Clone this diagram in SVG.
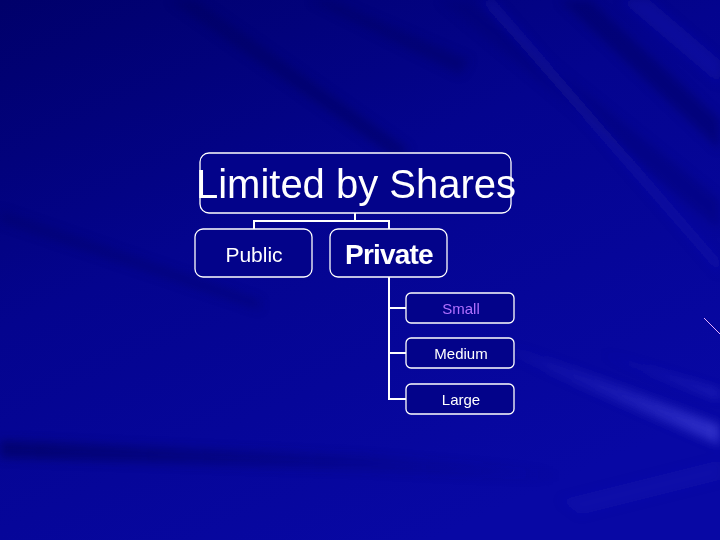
<svg xmlns="http://www.w3.org/2000/svg" width="720" height="540" viewBox="0 0 720 540">
<defs>
<linearGradient id="bg" x1="0" y1="0" x2="0.6" y2="1">
<stop offset="0" stop-color="#00006a"/>
<stop offset="0.45" stop-color="#04048e"/>
<stop offset="1" stop-color="#0808a4"/>
</linearGradient>
<linearGradient id="ray" x1="0" y1="0" x2="1" y2="0">
<stop offset="0" stop-color="#3a3ad0" stop-opacity="0"/>
<stop offset="1" stop-color="#4a4ae0" stop-opacity="0.6"/>
</linearGradient>
<linearGradient id="dray" x1="0" y1="0" x2="1" y2="0">
<stop offset="0" stop-color="#000050" stop-opacity="0.5"/>
<stop offset="1" stop-color="#000050" stop-opacity="0"/>
</linearGradient>
<filter id="blur" x="-20%" y="-20%" width="140%" height="140%"><feGaussianBlur stdDeviation="5"/></filter>
</defs>
<style>
.box{fill:#03038a;stroke:#ffffff;stroke-width:1.3}
.t{font-family:"Liberation Sans",Arial,sans-serif;fill:#ffffff;text-anchor:middle}
.conn{fill:none;stroke:#ffffff;stroke-width:2}
</style>
<rect width="720" height="540" fill="url(#bg)"/>
<g id="background" filter="url(#blur)">
<polygon points="170,0 195,0 410,150 395,158" fill="#00005a" opacity="0.45"/>
<polygon points="310,0 330,0 470,60 460,75" fill="#000058" opacity="0.35"/>
<polygon points="440,0 470,0 720,200 720,230" fill="#000070" opacity="0.35"/>
<polygon points="560,0 590,0 720,120 720,150" fill="#000060" opacity="0.45"/>
<polygon points="620,0 650,0 720,60 720,85" fill="#1616b8" opacity="0.3"/>
<polygon points="480,0 495,0 720,260 720,275" fill="#1a1ac0" opacity="0.25"/>
<polygon points="500,340 720,425 720,445 500,352" fill="url(#ray)"/>
<polygon points="600,350 720,390 720,400 600,356" fill="url(#ray)" opacity="0.5"/>
<polygon points="0,440 360,455 560,470 560,482 360,470 0,458" fill="url(#dray)"/>
<polygon points="0,210 260,300 260,310 0,222" fill="#00005c" opacity="0.3"/>
<polygon points="560,500 720,460 720,480 580,515" fill="#2020c0" opacity="0.2"/>
</g>
<line x1="704" y1="318" x2="720" y2="334" stroke="#e6b0ff" stroke-width="1"/>
<g id="connectors">
<path class="conn" d="M355,213 V221 M254,229 V221 H389 V229"/>
<path class="conn" d="M389,277 V399 H406 M389,308 H406 M389,353 H406"/>
</g>
<g id="node-root">
<rect class="box" x="200" y="153" width="311" height="60" rx="9"/>
<text class="t" x="356" y="198" font-size="40">Limited by Shares</text>
</g>
<g id="node-public">
<rect class="box" x="195" y="229" width="117" height="48" rx="8"/>
<text class="t" x="254" y="262" font-size="21">Public</text>
</g>
<g id="node-private">
<rect class="box" x="330" y="229" width="117" height="48" rx="8"/>
<text class="t" x="389" y="264" font-size="28" font-weight="bold" letter-spacing="-0.8">Private</text>
</g>
<g id="node-small">
<rect class="box" x="406" y="293" width="108" height="30" rx="5"/>
<text class="t" x="461" y="314" font-size="15" style="fill:#b070ff">Small</text>
</g>
<g id="node-medium">
<rect class="box" x="406" y="338" width="108" height="30" rx="5"/>
<text class="t" x="461" y="359" font-size="15">Medium</text>
</g>
<g id="node-large">
<rect class="box" x="406" y="384" width="108" height="30" rx="5"/>
<text class="t" x="461" y="405" font-size="15">Large</text>
</g>
</svg>
